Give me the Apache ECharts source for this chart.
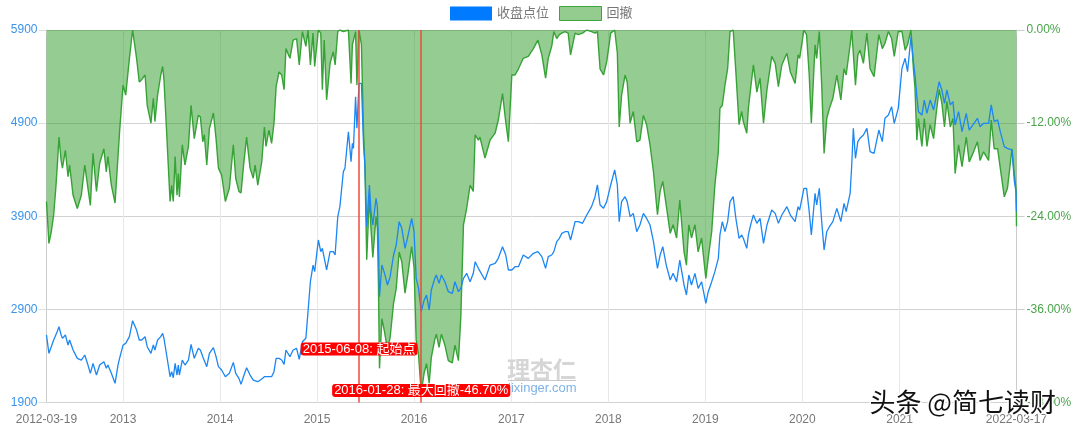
<!DOCTYPE html>
<html>
<head>
<meta charset="utf-8">
<title>收盘点位与回撤</title>
<script src="https://cdn.jsdelivr.net/npm/echarts@6/dist/echarts.min.js"></script>
<style>
html,body{margin:0;padding:0;background:#fff}
#chart{width:1080px;height:429px}
</style>
</head>
<body>
<div id="chart"></div>
<script>
const seriesNames = ['收盘点位', '回撤'];
const tickDates = ['2012-03-19','2013-01-01','2014-01-01','2015-01-01','2016-01-01','2017-01-01','2018-01-01','2019-01-01','2020-01-01','2021-01-01','2022-03-17'];
const tickLabels = ['2012-03-19','2013','2014','2015','2016','2017','2018','2019','2020','2021','2022-03-17'];

const dates = [
	'2012-03-19','2012-03-28','2012-04-06','2012-04-15','2012-04-23','2012-04-28','2012-05-05','2012-05-13','2012-05-18','2012-05-29','2012-06-08','2012-06-14','2012-06-27','2012-07-13','2012-07-28','2012-08-10','2012-08-22','2012-08-31','2012-09-10','2012-09-23','2012-10-05','2012-10-21','2012-10-30','2012-11-05','2012-11-18','2012-12-02','2012-12-13','2012-12-19',
	'2013-01-01','2013-01-11','2013-01-25','2013-02-06','2013-02-21','2013-03-03','2013-03-12','2013-03-25','2013-04-02','2013-04-16','2013-04-25','2013-05-01','2013-05-11','2013-05-23','2013-05-30','2013-06-04','2013-06-14','2013-06-27','2013-07-03','2013-07-09','2013-07-16','2013-07-23','2013-07-28','2013-08-01','2013-08-12','2013-08-22','2013-09-04','2013-09-14','2013-09-26','2013-10-11','2013-10-19','2013-10-28','2013-11-03','2013-11-12','2013-11-22','2013-12-07','2013-12-17','2013-12-26',
	'2014-01-07','2014-01-21','2014-02-05','2014-02-20','2014-03-01','2014-03-13','2014-03-21','2014-03-30','2014-04-11','2014-04-24','2014-05-06','2014-05-13','2014-05-23','2014-06-07','2014-06-17','2014-06-23','2014-07-04','2014-07-14','2014-07-23','2014-07-31','2014-08-11','2014-08-21','2014-08-30','2014-09-06','2014-09-21','2014-10-03','2014-10-16','2014-10-26','2014-11-07','2014-11-20','2014-11-28','2014-12-07','2014-12-17','2014-12-23',
	'2015-01-06','2015-01-15','2015-01-21','2015-01-28','2015-02-06','2015-02-19','2015-03-03','2015-03-10','2015-03-20','2015-03-28','2015-04-10','2015-04-16','2015-04-29','2015-05-09','2015-05-14','2015-05-18','2015-05-26','2015-05-31','2015-06-08','2015-06-17','2015-06-25','2015-06-30','2015-07-07','2015-07-17','2015-07-23','2015-07-30','2015-08-11','2015-08-16','2015-08-20','2015-08-24','2015-09-02','2015-09-12','2015-09-23','2015-10-03','2015-10-16','2015-10-26','2015-11-06','2015-11-16','2015-11-28','2015-12-07','2015-12-23',
	'2016-01-01','2016-01-09','2016-01-18','2016-01-28','2016-02-08','2016-02-17','2016-02-27','2016-03-06','2016-03-19','2016-03-25','2016-04-04','2016-04-13','2016-04-26','2016-05-09','2016-05-24','2016-06-03','2016-06-16','2016-06-25','2016-07-05','2016-07-17','2016-07-30','2016-08-11','2016-08-18','2016-08-30','2016-09-05','2016-09-24','2016-10-13','2016-11-01','2016-11-13','2016-11-29','2016-12-11','2016-12-21',
	'2017-01-03','2017-01-15','2017-01-28','2017-02-15','2017-03-06','2017-03-25','2017-04-11','2017-04-26','2017-05-10','2017-05-20','2017-06-02','2017-06-10','2017-06-21','2017-07-01','2017-07-10','2017-07-22','2017-08-03','2017-08-12','2017-08-29','2017-09-10','2017-09-26','2017-10-12','2017-10-30','2017-11-12','2017-11-21','2017-12-01','2017-12-14','2017-12-26',
	'2018-01-10','2018-01-25','2018-02-04','2018-02-11','2018-02-20','2018-03-05','2018-03-13','2018-03-24','2018-04-05','2018-04-18','2018-04-30','2018-05-13','2018-05-25','2018-06-07','2018-06-20','2018-07-05','2018-07-15','2018-07-25','2018-08-07','2018-08-22','2018-09-02','2018-09-15','2018-09-27','2018-10-13','2018-10-22','2018-10-31','2018-11-10','2018-11-23','2018-12-05','2018-12-18',
	'2019-01-03','2019-01-12','2019-01-25','2019-02-06','2019-02-19','2019-02-25','2019-03-06','2019-03-16','2019-03-26','2019-04-04','2019-04-16','2019-04-26','2019-05-08','2019-05-18','2019-05-24','2019-06-06','2019-06-12','2019-06-22','2019-07-01','2019-07-14','2019-07-26','2019-08-08','2019-08-21','2019-09-08','2019-09-21','2019-10-03','2019-10-16','2019-11-04','2019-11-17','2019-12-05','2019-12-16','2019-12-22',
	'2020-01-07','2020-01-17','2020-01-27','2020-02-04','2020-02-18','2020-02-24','2020-03-05','2020-03-14','2020-03-23','2020-04-02','2020-04-12','2020-04-25','2020-05-10','2020-05-16','2020-05-25','2020-06-06','2020-06-14','2020-06-29','2020-07-05','2020-07-11','2020-07-19','2020-07-28','2020-08-05','2020-08-18','2020-08-31','2020-09-12','2020-09-27','2020-10-15','2020-10-28','2020-11-07','2020-11-20','2020-12-02','2020-12-12','2020-12-27',
	'2021-01-10','2021-01-22','2021-01-31','2021-02-13','2021-02-22','2021-02-28','2021-03-07','2021-03-13','2021-03-26','2021-04-04','2021-04-14','2021-04-26','2021-05-09','2021-05-19','2021-05-30','2021-06-09','2021-06-19','2021-06-28','2021-07-11','2021-07-21','2021-07-29','2021-08-11','2021-08-24','2021-09-09','2021-09-20','2021-10-04','2021-10-21','2021-10-31','2021-11-13','2021-12-02','2021-12-12','2021-12-23',
	'2022-01-05','2022-01-15','2022-01-30','2022-02-11','2022-02-28','2022-03-09','2022-03-15','2022-03-17'
];

const closeValues = [
	2625,2428,2499,2571,2625,2660,2714,2625,2589,2625,2517,2571,2464,2374,2356,2410,2302,2213,2320,2195,2302,2338,2267,2302,2213,2106,2302,2374,
	2517,2535,2607,2779,2678,2571,2571,2607,2499,2428,2517,2464,2571,2607,2643,2589,2410,2177,2231,2166,2320,2195,2302,2195,2356,2302,2356,2524,2374,2481,2464,2392,2410,2285,2428,2489,2392,2285,
	2249,2177,2213,2331,2213,2159,2095,2177,2274,2195,2141,2159,2123,2152,2177,2159,2177,2177,2231,2374,2374,2356,2310,2464,2392,2464,2481,2363,2553,2589,2875,3197,3376,3305,
	3645,3520,3555,3573,3323,3520,3520,3484,3896,4003,4379,4415,4808,4486,4683,4629,5184,4844,5327,5327,4665,4450,3788,4236,3949,3806,4092,4003,3627,3036,3376,3287,3162,3251,3484,3591,3842,3770,3555,3663,3878,
	3734,3233,3126,2875,3000,3054,2893,3108,3233,3269,3179,3269,3197,3090,3072,3197,3090,3126,3233,3287,3197,3287,3412,3341,3358,3215,3376,3394,3448,3573,3484,3323,
	3323,3358,3358,3484,3448,3502,3520,3466,3340,3466,3484,3520,3627,3663,3716,3734,3734,3645,3842,3842,3824,3913,4003,4110,4236,4021,3985,4057,
	4236,4397,4236,3842,4057,4110,4057,3896,3931,3734,3806,3931,3878,3806,3627,3340,3484,3573,3376,3215,3287,3197,3430,3162,3054,3269,3162,3287,3126,3197,
	2965,3090,3197,3305,3448,3699,3842,3734,3842,4057,4110,3878,3663,3699,3663,3555,3699,3824,3913,3824,3878,3609,3806,3967,3931,3824,3913,4003,3913,3842,4003,3967,
	4200,4200,3949,3699,4146,4021,4200,3842,3538,3734,3788,3842,3985,3967,3842,4039,3949,4146,4450,4844,4522,4701,4737,4773,4844,4594,4576,4826,4701,4952,4987,5077,4898,5059,
	5489,5596,5453,5829,5560,5417,5184,5023,4987,5148,5005,5148,5041,5184,5345,5256,5113,5256,5095,5131,4880,5023,4808,5005,4826,4880,4952,4862,4898,4898,5095,4916,
	4934,4808,4647,4629,4611,4271,4164,3950
];

const drawdownValues = [
	-22.1,-27.5,-26.0,-23.8,-20.4,-17.8,-13.8,-16.8,-17.8,-15.5,-18.9,-17.4,-21.3,-23.0,-21.3,-17.4,-20.4,-22.6,-15.9,-20.8,-17.2,-15.3,-18.3,-16.3,-20.0,-22.3,-16.3,-13.1,
	-7.1,-8.4,-3.65,0,-3.65,-6.7,-6.4,-5.8,-9.7,-12.0,-8.8,-11.8,-8.4,-5.8,-4.7,-6.4,-13.1,-22.1,-20.0,-22.1,-16.3,-21.3,-18.5,-21.5,-14.8,-17.4,-15.0,-9.7,-14.0,-11.0,-11.2,-14.4,-13.5,-17.4,-12.7,-10.7,-14.0,-17.8,
	-18.7,-22.1,-20.4,-14.8,-19.1,-20.8,-21.0,-17.6,-13.8,-17.8,-19.1,-17.4,-20.0,-17.0,-12.5,-15.0,-12.9,-14.6,-12.0,-7.3,-5.4,-5.8,-7.7,-2.4,-3.65,-1.3,-1.1,-4.5,-0.2,-2.1,0,-4.5,-0.4,-4.7,
	0,-0.4,-7.7,-1.3,-9.0,-4.3,-2.8,-4.5,-0.2,0,-0.2,-0.4,0,-6.9,-1.9,-1.9,-0.2,-7.1,0,-1.9,-13.3,-17.3,-29.6,-21.3,-25.6,-29.3,-24.0,-25.6,-32.6,-43.6,-37.2,-38.9,-41.2,-39.6,-35.2,-33.3,-28.6,-29.9,-33.9,-31.9,-27.9,
	-30.6,-39.9,-41.9,-46.7,-44.2,-43.0,-45.5,-42.2,-39.9,-39.2,-40.9,-39.2,-40.6,-42.6,-42.9,-40.6,-42.6,-37.0,-25.1,-23.0,-20.0,-20.8,-13.5,-14.2,-13.8,-16.5,-14.2,-13.3,-11.6,-8.2,-11.8,-14.4,
	-5.8,-5.8,-5.0,-3.65,-3.4,-2.4,-1.3,-3.2,-6.2,-3.65,-2.1,-0.2,-1.1,-0.6,-0.4,-0.2,-0.4,-3.2,-0.4,-0.6,-0.4,0,-0.2,-0.4,-0.2,-5.0,-5.8,-4.1,
	-0.4,0,-3.0,-12.5,-8.4,-5.8,-6.7,-12.0,-10.5,-14.4,-14.2,-11.0,-12.2,-14.8,-18.3,-23.8,-20.8,-19.5,-22.6,-26.2,-25.1,-26.8,-21.9,-28.6,-30.3,-25.1,-26.8,-25.1,-28.6,-26.8,
	-32.0,-29.4,-26.0,-20.0,-15.7,-10.1,-9.7,-7.1,-5.0,-0.2,0,-5.4,-12.2,-10.5,-11.8,-13.3,-10.1,-7.1,-4.5,-8.0,-6.2,-12.0,-7.7,-3.4,-4.3,-7.3,-4.5,-3.0,-5.4,-6.9,-3.2,-3.65,
	0,-0.6,-5.8,-12.0,-1.9,-3.65,-0.2,-7.1,-15.9,-11.4,-10.1,-8.8,-5.8,-5.8,-9.0,-5.0,-5.8,-1.9,0,-0.2,-7.1,-3.2,-2.6,-4.3,-0.4,-5.0,-6.0,-0.6,-2.4,-1.7,-0.2,-1.1,-3.4,-0.2,
	-0.2,-2.6,-1.9,0,-5.0,-7.5,-14.2,-11.4,-15.0,-11.4,-15.0,-12.2,-14.0,-10.7,-7.7,-9.4,-12.5,-9.2,-12.5,-11.4,-18.5,-14.8,-17.6,-13.8,-17.0,-15.9,-14.4,-16.8,-15.7,-16.8,-11.6,-15.3,
	-15.3,-17.8,-21.5,-20.4,-15.3,-18.7,-20.4,-25.3
];

// 两条红线的日期和标注
const markDates = ['2015-06-08', '2016-01-28'];
const markTexts = ['2015-06-08: 起始点', '2016-01-28: 最大回撤-46.70%'];
const markLevels = [2475, 2030];

const font = 'Arial, "Liberation Sans", "Noto Sans CJK SC", sans-serif';

// the x axis is a plain value axis in ms, so the ticks can sit on the dates listed above
const ms = d => new Date(d).getTime();
const tickValues = tickDates.map(ms);

let chart = echarts.init(document.getElementById('chart'));
let option = {
	animation: false,
	textStyle: {fontFamily: font},
	legend: {
		top: 1,
		left: 445,
		itemWidth: 42,
		itemHeight: 14,
		itemGap: 10,
		textStyle: {color: '#777', fontSize: 13},
		data: [
			{name: seriesNames[0], icon: 'rect', itemStyle: {color: '#007bff', borderWidth: 0}},
			{name: seriesNames[1], icon: 'rect', itemStyle: {color: '#94cc90', borderColor: '#3ca53c', borderWidth: 1}}
		]
	},
	grid: {left: 46.5, right: 63.5, top: 30, bottom: 26.5},
	xAxis: {
		type: 'value',
		min: tickValues[0],
		max: tickValues[tickValues.length - 1],
		axisLine: {lineStyle: {color: '#ccc'}},
		axisTick: {show: true, length: 6, customValues: tickValues, lineStyle: {color: '#ddd'}},
		axisLabel: {
			customValues: tickValues,
			color: '#777',
			fontSize: 12,
			margin: 11,
			hideOverlap: false,
			formatter: function (value) {
				return tickLabels[tickValues.indexOf(value)];
			}
		},
		splitLine: {show: true, lineStyle: {color: '#e8e8e8'}}
	},
	yAxis: [
		{
			type: 'value',
			min: 1900,
			max: 5900,
			interval: 1000,
			axisLine: {show: true, lineStyle: {color: '#ccc'}},
			axisTick: {show: true, length: 8, lineStyle: {color: '#ddd'}},
			axisLabel: {
				color: '#3b93ea',
				fontSize: 12,
				margin: 9,
				formatter: function (v) {
					return String(v);
				}
			},
			splitLine: {show: true, lineStyle: {color: '#d2d2d2'}}
		},
		{
			type: 'value',
			position: 'right',
			min: -48,
			max: 0,
			interval: 12,
			axisLine: {show: true, lineStyle: {color: '#ccc'}},
			axisTick: {show: true, length: 8, lineStyle: {color: '#ccc'}},
			axisLabel: {
				color: '#4aa34a',
				fontSize: 12,
				margin: 10,
				formatter: function (v) {
					return v.toFixed(2) + '%';
				}
			},
			splitLine: {show: false}
		}
	],
	series: [
		{
			name: seriesNames[0],
			type: 'line',
			yAxisIndex: 0,
			z: 4,
			showSymbol: false,
			symbol: 'none',
			lineStyle: {color: '#1c86f2', width: 1.3},
			itemStyle: {color: '#007bff'},
			data: closeValues.map((v, i) => [ms(dates[i]), v]),
			markLine: {
				silent: true,
				symbol: 'none',
				label: {show: false},
				lineStyle: {color: '#ee4b3c', width: 1.5, type: 'solid'},
				data: markDates.map(d => ({xAxis: ms(d)}))
			},
			markPoint: {
				silent: true,
				symbol: 'rect',
				symbolSize: 0,
				z: 10,
				label: {
					show: true,
					position: 'inside',
					color: '#fff',
					fontSize: 13,
					lineHeight: 13,
					backgroundColor: '#f00',
					borderRadius: 3,
					padding: [0, 2],
					formatter: p => p.name
				},
				data: markDates.map((d, i) => ({name: markTexts[i], coord: [ms(d), markLevels[i]]}))
			}
		},
		{
			name: seriesNames[1],
			type: 'line',
			yAxisIndex: 1,
			z: 2,
			showSymbol: false,
			symbol: 'none',
			lineStyle: {color: '#37a337', width: 1.4},
			itemStyle: {color: '#94cc90'},
			areaStyle: {color: 'rgba(44,154,36,0.5)', opacity: 1, origin: 'end'},
			data: drawdownValues.map((v, i) => [ms(dates[i]), v])
		}
	],
	graphic: [
		{type: 'text', left: 507, top: 358, z: 1, style: {text: '理杏仁', fill: '#d6d6d6', font: 'bold 23px "Noto Sans CJK SC"'}},
		{type: 'rect', left: 508, top: 380, z: 1, shape: {width: 68, height: 1}, style: {fill: '#c8c8c8'}},
		{type: 'text', left: 508, top: 382, z: 1, style: {text: 'lixinger.com', fill: '#7fb2e5', font: '13px ' + font}},
		{
			type: 'text',
			left: 868,
			top: 388,
			z: 100,
			style: {
				text: '头条 @简七读财',
				fill: '#111',
				stroke: '#fff',
				lineWidth: 3,
				font: '26px "Noto Sans CJK SC"'
			}
		}
	]
};
chart.setOption(option);
window.addEventListener('resize', function () {
	chart.resize();
});
</script>
</body>
</html>
